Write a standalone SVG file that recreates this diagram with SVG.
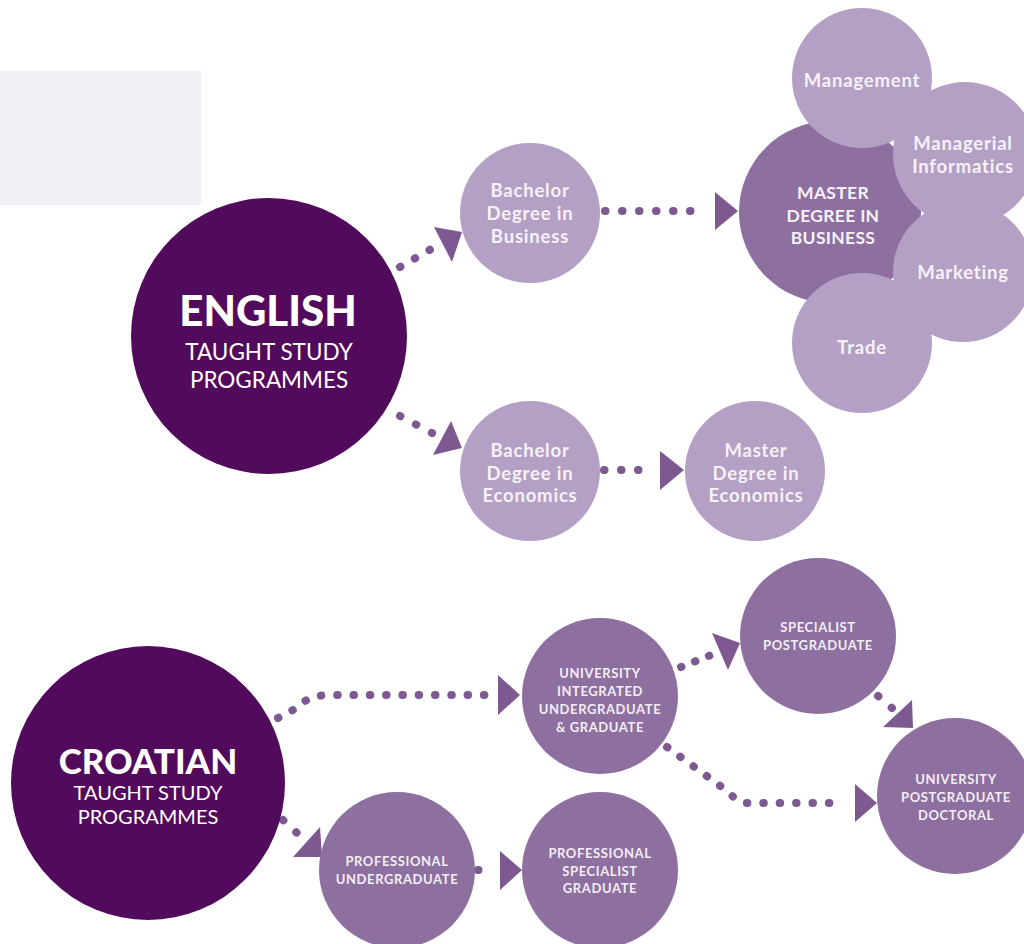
<svg xmlns="http://www.w3.org/2000/svg" width="1024" height="944" viewBox="0 0 1024 944">
<style>
.dark{fill:#520a5c}
.mid{fill:#8d6fa0}
.light{fill:#b4a0c4}
.dots{fill:none;stroke:#7e5991;stroke-width:8;stroke-linecap:round}
.head{fill:#7e5991}
text{font-family:Lato,"Open Sans","Liberation Sans",sans-serif;fill:#ffffff;text-anchor:middle;font-weight:bold}
.big{font-weight:900}
.sub{font-weight:normal}
.t17{font-size:18.5px;letter-spacing:0.8px;fill:#f6f2f8}
.caps{font-size:17.5px;letter-spacing:0.3px;fill:#f6f2f8}
.t12{font-size:13px;letter-spacing:0.6px;fill:#f3eef5}
</style>
<rect x="0" y="71" width="201" height="134" fill="#f2eff6"/>
<g id="connectors">
<path class="dots" d="M400,267 L433,248" stroke-dasharray="0.5 16.5"/>
<polygon class="head" points="434,227 462,232 452,262"/>
<path class="dots" d="M605,211 H707" stroke-dasharray="0.5 16.5"/>
<polygon class="head" points="715,192 738,211 715,230"/>
<path class="dots" d="M400,416 L432,433" stroke-dasharray="0.5 17.5"/>
<polygon class="head" points="451,421 462,448 433,455"/>
<path class="dots" d="M604,470 H655" stroke-dasharray="0.5 16.5"/>
<polygon class="head" points="660,451 684,470 660,490"/>
<path class="dots" d="M278,718 L293,710 Q306,697 325,695 H489" stroke-dasharray="0.5 15.8"/>
<polygon class="head" points="498,675 520,695 498,715"/>
<path class="dots" d="M681,667 L711,655" stroke-dasharray="0.5 14.5"/>
<polygon class="head" points="712,633 740,643 728,670"/>
<path class="dots" d="M878,696 L892,708" stroke-dasharray="0.5 17.5"/>
<polygon class="head" points="912,700 913,728 883,727"/>
<path class="dots" d="M667,747 L730,793 Q737,803 747,803 H845" stroke-dasharray="0.5 15.9"/>
<polygon class="head" points="855,784 877,803 855,822"/>
<path class="dots" d="M283,820 L297,833" stroke-dasharray="0.5 17.5"/>
<polygon class="head" points="320,827 322,857 293,857"/>
<path class="dots" d="M478,870 H494" stroke-dasharray="0.5 15.5"/>
<polygon class="head" points="500,851 522,870 500,890"/>
</g>
<g id="english">
<circle class="dark" cx="269" cy="336" r="138"/>
<text class="big" x="268" y="326" font-size="42">ENGLISH</text>
<text class="sub" x="269" y="360" font-size="22.5">TAUGHT STUDY</text>
<text class="sub" x="269" y="388" font-size="22.5">PROGRAMMES</text>
</g>
<g id="bachelor-business">
<circle class="light" cx="530" cy="213" r="70"/>
<text class="t17" x="530" y="197">Bachelor</text>
<text class="t17" x="530" y="220">Degree in</text>
<text class="t17" x="530" y="243">Business</text>
</g>
<g id="master-business">
<circle class="mid" cx="830" cy="212" r="91"/>
<text class="caps" x="833" y="199">MASTER</text>
<text class="caps" x="833" y="222">DEGREE IN</text>
<text class="caps" x="833" y="244">BUSINESS</text>
</g>
<g id="management">
<circle class="light" cx="862" cy="78" r="70"/>
<text class="t17" x="862" y="87">Management</text>
</g>
<g id="managerial-informatics">
<circle class="light" cx="965" cy="154" r="72"/>
<text class="t17" x="963" y="150">Managerial</text>
<text class="t17" x="963" y="173">Informatics</text>
</g>
<g id="marketing">
<circle class="light" cx="963" cy="272" r="70"/>
<text class="t17" x="963" y="279">Marketing</text>
</g>
<g id="trade">
<circle class="light" cx="862" cy="343" r="70"/>
<text class="t17" x="862" y="354">Trade</text>
</g>
<g id="bachelor-economics">
<circle class="light" cx="530" cy="471" r="70"/>
<text class="t17" x="530" y="457">Bachelor</text>
<text class="t17" x="530" y="480">Degree in</text>
<text class="t17" x="530" y="502">Economics</text>
</g>
<g id="master-economics">
<circle class="light" cx="755" cy="471" r="70"/>
<text class="t17" x="756" y="457">Master</text>
<text class="t17" x="756" y="480">Degree in</text>
<text class="t17" x="756" y="502">Economics</text>
</g>
<g id="croatian">
<circle class="dark" cx="148" cy="783" r="137"/>
<text class="big" x="148" y="774" font-size="35">CROATIAN</text>
<text class="sub" x="148" y="800" font-size="20">TAUGHT STUDY</text>
<text class="sub" x="148" y="824" font-size="20">PROGRAMMES</text>
</g>
<g id="university-integrated">
<circle class="mid" cx="600" cy="696" r="78"/>
<text class="t12" x="600" y="678">UNIVERSITY</text>
<text class="t12" x="600" y="696">INTEGRATED</text>
<text class="t12" x="600" y="714">UNDERGRADUATE</text>
<text class="t12" x="600" y="732">&amp; GRADUATE</text>
</g>
<g id="specialist-postgraduate">
<circle class="mid" cx="818" cy="636" r="78"/>
<text class="t12" x="818" y="632">SPECIALIST</text>
<text class="t12" x="818" y="650">POSTGRADUATE</text>
</g>
<g id="university-doctoral">
<circle class="mid" cx="955" cy="796" r="78"/>
<text class="t12" x="956" y="784">UNIVERSITY</text>
<text class="t12" x="956" y="802">POSTGRADUATE</text>
<text class="t12" x="956" y="820">DOCTORAL</text>
</g>
<g id="professional-undergraduate">
<circle class="mid" cx="397" cy="870" r="78"/>
<text class="t12" x="397" y="866">PROFESSIONAL</text>
<text class="t12" x="397" y="884">UNDERGRADUATE</text>
</g>
<g id="professional-specialist">
<circle class="mid" cx="600" cy="870" r="78"/>
<text class="t12" x="600" y="858">PROFESSIONAL</text>
<text class="t12" x="600" y="876">SPECIALIST</text>
<text class="t12" x="600" y="893">GRADUATE</text>
</g>
</svg>
